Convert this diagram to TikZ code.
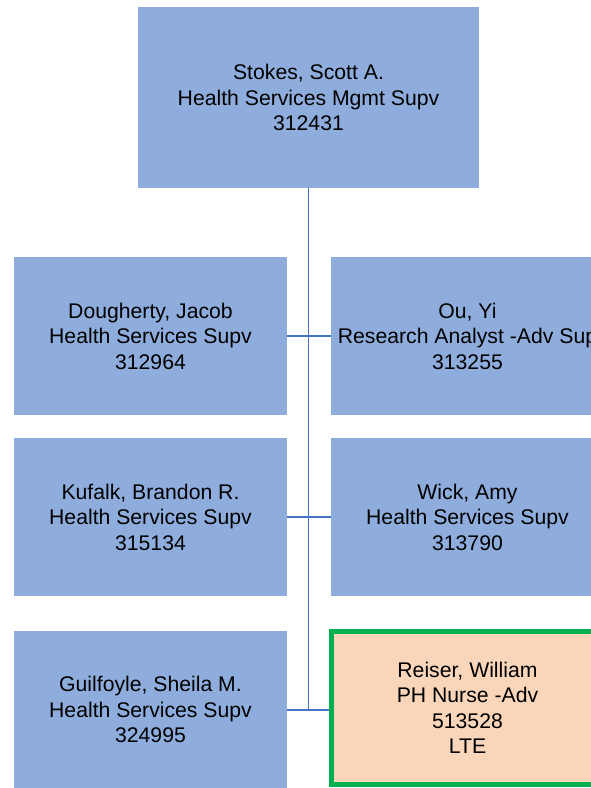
\documentclass[tikz,border=0pt]{standalone}
\usepackage{fontspec}
\setmainfont{Liberation Sans}
\definecolor{boxblue}{HTML}{8EADDC}
\definecolor{lineblue}{HTML}{4472C4}
\definecolor{ltegreen}{HTML}{00B050}
\definecolor{peach}{HTML}{F9D6B9}
\begin{document}
\begin{tikzpicture}[x=1pt,y=-1pt,
  person/.style={rectangle, fill=boxblue, draw=none, inner sep=0pt,
    minimum width=273pt, minimum height=158pt, align=center,
    font={\fontsize{21.2}{25.5}\selectfont}, text=black},
  ltebox/.style={person, fill=peach, draw=ltegreen, line width=5pt,
    minimum width=273pt, minimum height=153pt},
  link/.style={draw=lineblue, line width=1.8pt}]
\path[use as bounding box] (0,0) rectangle (591,788);
\clip (0,0) rectangle (591,788);
\node[person, minimum width=341pt, minimum height=181pt] (top) at (308.5,97.5)
  {Stokes, Scott A.\\Health Services Mgmt Supv\\312431};
\node[person] (d) at (150.5,336) {Dougherty, Jacob\\Health Services Supv\\312964};
\node[person] (o) at (467.5,336) {Ou, Yi\\Research Analyst -Adv Sup\\313255};
\node[person] (k) at (150.5,517) {Kufalk, Brandon R.\\Health Services Supv\\315134};
\node[person] (w) at (467.5,517) {Wick, Amy\\Health Services Supv\\313790};
\node[person, minimum height=157pt] (g) at (150.5,709.5) {Guilfoyle, Sheila M.\\Health Services Supv\\324995};
\node[ltebox] (r) at (467.5,708) {Reiser, William\\PH Nurse -Adv\\513528\\LTE};
\coordinate (bend) at (top.south |- 0,710);
\draw[link, line width=1.3pt] (d.east) -- (o.west);
\draw[link, line width=1.3pt] (k.east) -- (w.west);
\draw[link, line width=1.3pt] (g.east |- bend) -- (r.west |- bend);
\draw[link] (top.south) -- (bend);
\end{tikzpicture}
\end{document}
